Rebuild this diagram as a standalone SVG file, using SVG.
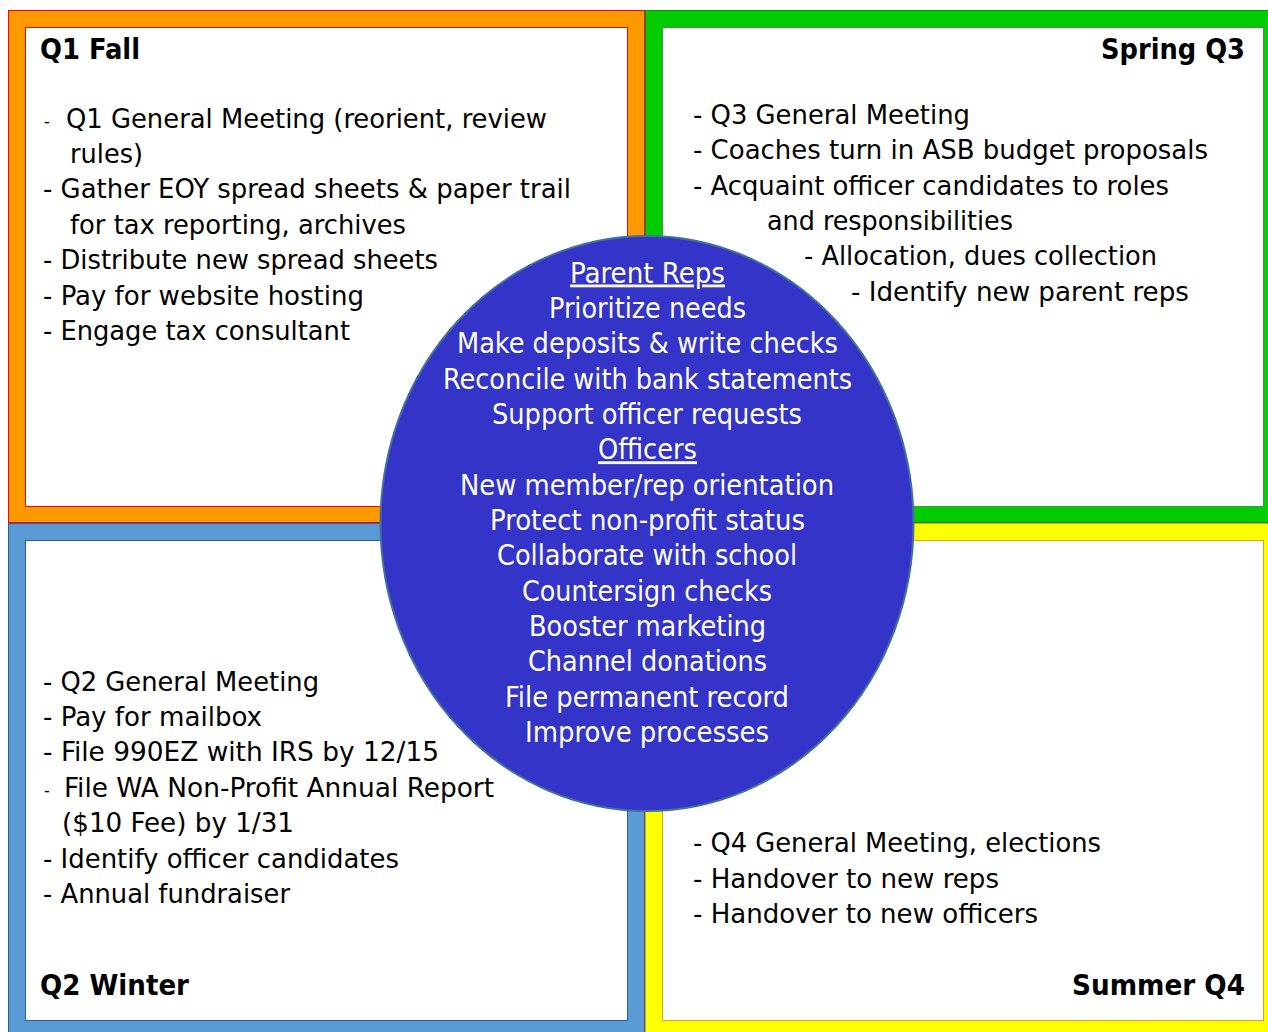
<svg xmlns="http://www.w3.org/2000/svg" width="1268" height="1032" viewBox="0 0 1268 1032">
<style>
.t{font-family:"DejaVu Sans Condensed","DejaVu Sans",sans-serif;font-size:27px;fill:#000}
.b{font-family:"DejaVu Sans Condensed","DejaVu Sans",sans-serif;font-size:28px;font-weight:bold;fill:#000}
.d{font-family:"DejaVu Sans Condensed","DejaVu Sans",sans-serif;font-size:18px;fill:#000}
.c{font-family:"DejaVu Sans Condensed","DejaVu Sans",sans-serif;font-size:28px;fill:#fff}
.u{text-decoration:underline}
.in{fill:#fff}
</style>
<rect width="1268" height="1032" fill="#fff"/>
<g id="q1">
<rect x="8.5" y="10.5" width="636" height="512" fill="#FF9900" stroke="#FF0000" stroke-width="1"/>
<rect x="25.5" y="27.5" width="602" height="479" class="in" stroke="#FF0000" stroke-width="1"/>
<text class="b" x="40" y="59" textLength="100" lengthAdjust="spacingAndGlyphs">Q1 Fall</text>
<text class="d" x="44" y="127">-</text>
<text class="t" x="66" y="128" textLength="481" lengthAdjust="spacingAndGlyphs">Q1 General Meeting (reorient, review</text>
<text class="t" x="70" y="163" textLength="73" lengthAdjust="spacingAndGlyphs">rules)</text>
<text class="t" x="43" y="198" textLength="528" lengthAdjust="spacingAndGlyphs">- Gather EOY spread sheets &amp; paper trail</text>
<text class="t" x="70" y="234" textLength="336" lengthAdjust="spacingAndGlyphs">for tax reporting, archives</text>
<text class="t" x="43" y="269" textLength="395" lengthAdjust="spacingAndGlyphs">- Distribute new spread sheets</text>
<text class="t" x="43" y="305" textLength="321" lengthAdjust="spacingAndGlyphs">- Pay for website hosting</text>
<text class="t" x="43" y="340" textLength="307" lengthAdjust="spacingAndGlyphs">- Engage tax consultant</text>
</g>
<g id="q3">
<rect x="645.5" y="10.5" width="636" height="512" fill="#00CC00" stroke="#009A00" stroke-width="1"/>
<rect x="662.5" y="27.5" width="601" height="479" class="in" stroke="#3C9A3C" stroke-width="1"/>
<text class="b" x="1101" y="59" textLength="144" lengthAdjust="spacingAndGlyphs">Spring Q3</text>
<text class="t" x="693" y="124" textLength="277" lengthAdjust="spacingAndGlyphs">- Q3 General Meeting</text>
<text class="t" x="693" y="159" textLength="515" lengthAdjust="spacingAndGlyphs">- Coaches turn in ASB budget proposals</text>
<text class="t" x="693" y="195" textLength="476" lengthAdjust="spacingAndGlyphs">- Acquaint officer candidates to roles</text>
<text class="t" x="767" y="230" textLength="246" lengthAdjust="spacingAndGlyphs">and responsibilities</text>
<text class="t" x="804" y="265" textLength="353" lengthAdjust="spacingAndGlyphs">- Allocation, dues collection</text>
<text class="t" x="851" y="301" textLength="338" lengthAdjust="spacingAndGlyphs">- Identify new parent reps</text>
</g>
<g id="q2">
<rect x="8.5" y="523.5" width="636" height="514" fill="#5B9BD5" stroke="#2F5C9E" stroke-width="1"/>
<rect x="25.5" y="540.5" width="602" height="480" class="in" stroke="#2F5C9E" stroke-width="1"/>
<text class="b" x="40" y="995" textLength="149" lengthAdjust="spacingAndGlyphs">Q2 Winter</text>
<text class="t" x="43" y="691" textLength="276" lengthAdjust="spacingAndGlyphs">- Q2 General Meeting</text>
<text class="t" x="43" y="726" textLength="219" lengthAdjust="spacingAndGlyphs">- Pay for mailbox</text>
<text class="t" x="43" y="761" textLength="396" lengthAdjust="spacingAndGlyphs">- File 990EZ with IRS by 12/15</text>
<text class="d" x="44" y="796">-</text>
<text class="t" x="64" y="797" textLength="430" lengthAdjust="spacingAndGlyphs">File WA Non-Profit Annual Report</text>
<text class="t" x="62" y="832" textLength="232" lengthAdjust="spacingAndGlyphs">($10 Fee) by 1/31</text>
<text class="t" x="43" y="868" textLength="356" lengthAdjust="spacingAndGlyphs">- Identify officer candidates</text>
<text class="t" x="43" y="903" textLength="247" lengthAdjust="spacingAndGlyphs">- Annual fundraiser</text>
</g>
<g id="q4">
<rect x="645.5" y="523.5" width="636" height="514" fill="#FFFF00" stroke="#E0A020" stroke-width="1"/>
<rect x="662.5" y="540.5" width="601" height="480" class="in" stroke="#E0A020" stroke-width="1"/>
<text class="b" x="1072" y="995" textLength="173" lengthAdjust="spacingAndGlyphs">Summer Q4</text>
<text class="t" x="693" y="852" textLength="408" lengthAdjust="spacingAndGlyphs">- Q4 General Meeting, elections</text>
<text class="t" x="693" y="888" textLength="306" lengthAdjust="spacingAndGlyphs">- Handover to new reps</text>
<text class="t" x="693" y="923" textLength="345" lengthAdjust="spacingAndGlyphs">- Handover to new officers</text>
</g>
<g id="center">
<ellipse cx="647" cy="523.5" rx="266.5" ry="287.5" fill="#3434C8" stroke="#41719C" stroke-width="2"/>
<text class="c u" x="570" y="282.5" textLength="155" lengthAdjust="spacingAndGlyphs">Parent Reps</text>
<text class="c" x="549" y="317.9" textLength="197" lengthAdjust="spacingAndGlyphs">Prioritize needs</text>
<text class="c" x="457" y="353.2" textLength="381" lengthAdjust="spacingAndGlyphs">Make deposits &amp; write checks</text>
<text class="c" x="443" y="388.6" textLength="409" lengthAdjust="spacingAndGlyphs">Reconcile with bank statements</text>
<text class="c" x="492" y="423.9" textLength="310" lengthAdjust="spacingAndGlyphs">Support officer requests</text>
<text class="c u" x="598" y="459.3" textLength="99" lengthAdjust="spacingAndGlyphs">Officers</text>
<text class="c" x="460" y="494.6" textLength="374" lengthAdjust="spacingAndGlyphs">New member/rep orientation</text>
<text class="c" x="490" y="530" textLength="315" lengthAdjust="spacingAndGlyphs">Protect non-profit status</text>
<text class="c" x="497" y="565.3" textLength="300" lengthAdjust="spacingAndGlyphs">Collaborate with school</text>
<text class="c" x="522" y="600.7" textLength="250" lengthAdjust="spacingAndGlyphs">Countersign checks</text>
<text class="c" x="529" y="636" textLength="237" lengthAdjust="spacingAndGlyphs">Booster marketing</text>
<text class="c" x="528" y="671.4" textLength="239" lengthAdjust="spacingAndGlyphs">Channel donations</text>
<text class="c" x="505" y="706.7" textLength="284" lengthAdjust="spacingAndGlyphs">File permanent record</text>
<text class="c" x="525" y="742.1" textLength="244" lengthAdjust="spacingAndGlyphs">Improve processes</text>
</g>
<g id="connectors"/>
</svg>
